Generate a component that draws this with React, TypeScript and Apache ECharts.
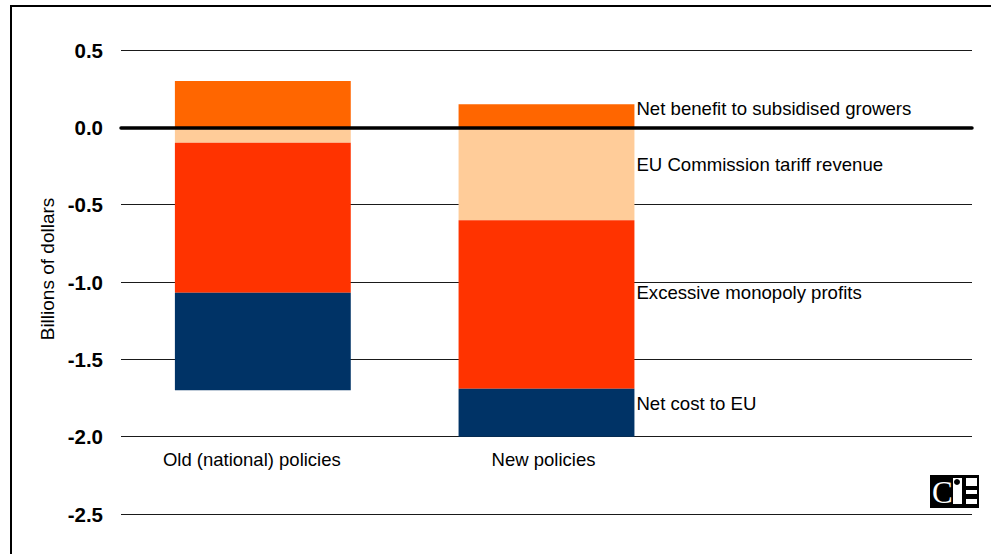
import React, { useEffect, useRef } from "react";
import * as echarts from "echarts";

const categories = ["Old (national) policies", "New policies", ""];
const seriesNames = [
  "Net benefit to subsidised growers",
  "EU Commission tariff revenue",
  "Excessive monopoly profits",
  "Net cost to EU",
];
const netBenefit = [0.3, 0.15, null];
const tariffRevenue = [-0.1, -0.6, null];
const monopolyProfits = [-0.97, -1.09, null];
const netCost = [-0.63, -0.31, null];
const yTicks = { min: -2.5, max: 0.5, step: 0.5 };

const colors = ["#FF6600", "#FFCC99", "#FF3300", "#003366"];
const labelOffsets = [-7, -9, -12, -9];
const categoryPadRight = [22, 6, 0];
const FONT = "'Liberation Sans Narrow', 'Arial Narrow', 'Liberation Sans', Arial, sans-serif";

export default function App() {
  const ref = useRef<HTMLDivElement>(null);
  useEffect(() => {
    if (!ref.current) return;
    const chart = echarts.init(ref.current, null, { renderer: "svg" });
    const values = [netBenefit, tariffRevenue, monopolyProfits, netCost];
    const series: any[] = values.map((vals, si) => ({
      name: seriesNames[si],
      type: "bar",
      stack: "total",
      barWidth: "62%",
      itemStyle: { color: colors[si] },
      data: vals.map((v, i) =>
        i === 1
          ? {
              value: v,
              label: {
                show: true,
                position: "right",
                distance: 2,
                offset: [0, labelOffsets[si]],
                formatter: seriesNames[si],
                color: "#000",
                fontFamily: FONT,
                fontSize: 18.6,
              },
            }
          : v
      ),
    }));
    series[0].markLine = {
      silent: true,
      symbol: "none",
      label: { show: false },
      lineStyle: { color: "#000", width: 3.5, type: "solid", cap: "round" },
      data: [{ yAxis: 0 }],
      z: 10,
    };
    chart.setOption({
      animation: false,
      grid: { left: 121, right: 19, top: 50, bottom: 40 },
      xAxis: {
        type: "category",
        data: categories.map((c, i) => ({
          value: c,
          textStyle: { padding: [0, categoryPadRight[i], 0, 0] },
        })),
        offset: -77,
        axisLine: { show: false },
        axisTick: { show: false },
        axisLabel: {
          interval: 0,
          color: "#000",
          fontFamily: FONT,
          fontSize: 18.5,
          margin: 13,
        },
      },
      yAxis: {
        type: "value",
        min: yTicks.min,
        max: yTicks.max,
        interval: yTicks.step,
        axisLine: { show: false },
        axisTick: { show: false },
        splitLine: { lineStyle: { color: "#1a1a1a", width: 1 } },
        axisLabel: {
          color: "#000",
          fontFamily: FONT,
          fontWeight: "bold",
          fontSize: 20.5,
          margin: 18,
          formatter: (v: number) => v.toFixed(1),
        },
      },
      graphic: [
        {
          type: "rect",
          shape: { x: 11, y: 6, width: 1100, height: 700 },
          style: { fill: "none", stroke: "#000", lineWidth: 2 },
          silent: true,
        },
        {
          type: "text",
          x: 47,
          y: 269,
          rotation: Math.PI / 2,
          style: {
            text: "Billions of dollars",
            fontFamily: FONT,
            fontSize: 19,
            fill: "#000",
            textAlign: "center",
            textVerticalAlign: "middle",
          },
        },
        {
          type: "group",
          x: 930,
          y: 475,
          children: [
            { type: "rect", shape: { x: 0, y: 0, width: 49, height: 33 }, style: { fill: "#000" } },
            {
              type: "text",
              x: 2,
              y: 17,
              style: {
                text: "C",
                fontFamily: "'Liberation Serif', 'DejaVu Serif', serif",
                fontSize: 31,
                fill: "#fff",
                textVerticalAlign: "middle",
              },
            },
            { type: "rect", shape: { x: 23, y: 3, width: 9, height: 26 }, style: { fill: "#fff" } },
            { type: "circle", shape: { cx: 27, cy: 7, r: 3 }, style: { fill: "#000" } },
            { type: "rect", shape: { x: 36, y: 3, width: 11, height: 8 }, style: { fill: "#fff" } },
            { type: "rect", shape: { x: 36, y: 15, width: 11, height: 4 }, style: { fill: "#fff" } },
            { type: "rect", shape: { x: 36, y: 24, width: 11, height: 5 }, style: { fill: "#fff" } },
          ],
        },
      ],
      series,
    });
    return () => chart.dispose();
  }, []);
  return (
    <div
      ref={ref}
      style={{ position: "absolute", left: 0, top: 0, width: 991, height: 554, background: "#fff" }}
    />
  );
}
